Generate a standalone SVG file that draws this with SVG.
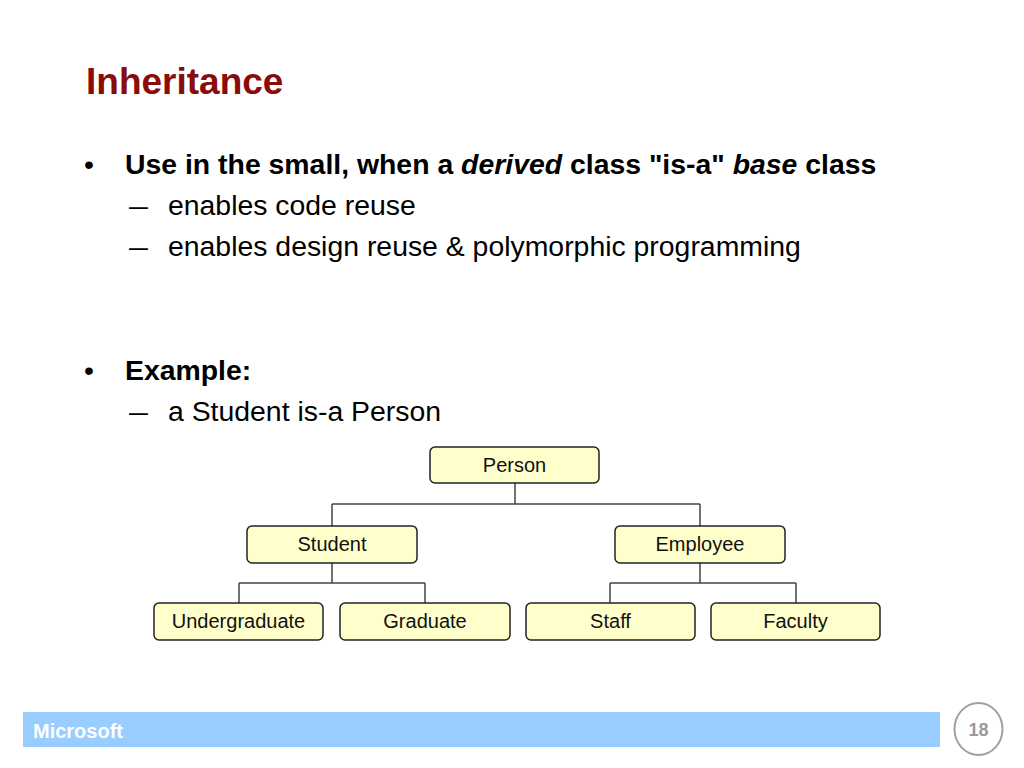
<svg xmlns="http://www.w3.org/2000/svg" width="1024" height="768" viewBox="0 0 1024 768">
<style>
  .body { font-family: "Liberation Sans", Arial, sans-serif; font-size: 28.4px; fill: #000; }
  .b { font-weight: bold; }
  .i { font-style: italic; }
  .node rect { fill: #FFFFCC; stroke: #222; stroke-width: 1.5; }
  .node text { font-family: "Liberation Sans", Arial, sans-serif; font-size: 20px; fill: #111; text-anchor: middle; }
  .conn path { fill: none; stroke: #444; stroke-width: 1.5; }
</style>
<rect x="0" y="0" width="1024" height="768" fill="#FFFFFF"/>
<text x="86" y="94" font-family="Liberation Sans, Arial, sans-serif" font-size="37" font-weight="bold" fill="#8B0A0A">Inheritance</text>

<text x="84" y="174" class="body">•</text>
<text x="125" y="174" class="body b">Use in the small, when a <tspan class="i">derived</tspan> class "is-a" <tspan class="i">base</tspan> class</text>
<text x="129" y="215" class="body" transform="translate(129,215) scale(1.2,1) translate(-129,-215)">–</text>
<text x="168" y="215" class="body">enables code reuse</text>
<text x="129" y="256" class="body" transform="translate(129,256) scale(1.2,1) translate(-129,-256)">–</text>
<text x="168" y="256" class="body">enables design reuse &amp; polymorphic programming</text>
<text x="84" y="380" class="body">•</text>
<text x="125" y="380" class="body b">Example:</text>
<text x="129" y="421" class="body" transform="translate(129,421) scale(1.2,1) translate(-129,-421)">–</text>
<text x="168" y="421" class="body">a Student is-a Person</text>

<g class="conn" id="connectors">
  <path d="M515,483 V504 M332,504 H700 M332,504 V526 M700,504 V526"/>
  <path d="M332,563 V583 M239,583 H425 M239,583 V603 M425,583 V603"/>
  <path d="M700,563 V583 M610,583 H796 M610,583 V603 M796,583 V603"/>
</g>

<g class="node" id="person"><rect x="430" y="447" width="169" height="36" rx="5"/><text x="514.5" y="472">Person</text></g>
<g class="node" id="student"><rect x="247" y="526" width="170" height="37" rx="5"/><text x="332" y="551">Student</text></g>
<g class="node" id="employee"><rect x="615" y="526" width="170" height="37" rx="5"/><text x="700" y="551">Employee</text></g>
<g class="node" id="undergraduate"><rect x="154" y="603" width="169" height="37" rx="5"/><text x="238.5" y="628">Undergraduate</text></g>
<g class="node" id="graduate"><rect x="340" y="603" width="170" height="37" rx="5"/><text x="425" y="628">Graduate</text></g>
<g class="node" id="staff"><rect x="526" y="603" width="169" height="37" rx="5"/><text x="610.5" y="628">Staff</text></g>
<g class="node" id="faculty"><rect x="711" y="603" width="169" height="37" rx="5"/><text x="795.5" y="628">Faculty</text></g>

<rect x="23" y="712" width="917" height="35" fill="#99CCFF"/>
<text x="33" y="738" font-family="Liberation Sans, Arial, sans-serif" font-size="20" font-weight="bold" fill="#FFFFFF">Microsoft</text>
<ellipse cx="978.5" cy="729" rx="24" ry="26" fill="#FFFFFF" stroke="#A0A0A0" stroke-width="2"/>
<text x="978.5" y="736" font-family="Liberation Sans, Arial, sans-serif" font-size="18" font-weight="bold" fill="#999999" text-anchor="middle">18</text>
</svg>
